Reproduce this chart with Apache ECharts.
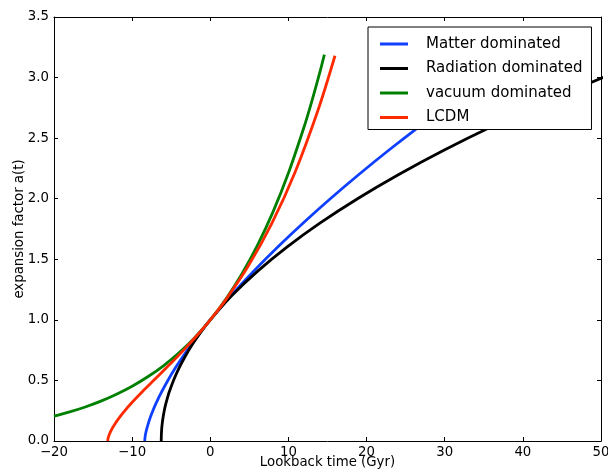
<!DOCTYPE html>
<html>
<head>
<meta charset="utf-8">
<script src="https://cdn.jsdelivr.net/npm/echarts@6/dist/echarts.min.js"></script>
<style>
html,body{margin:0;padding:0;background:#fff;}
#chart{width:608px;height:474px;}
</style>
</head>
<body>
<div id="chart"></div>
<script>
// ---- data ----
const seriesNames = ['Matter dominated', 'Radiation dominated', 'vacuum dominated', 'LCDM'];
const seriesColors = ['#1040ff', '#000000', '#008000', '#ff2a00'];

const matterTime  = [-8.40, -8.31, -8.13, -7.91, -7.65, -7.35, -7.02, -6.66, -6.28, -5.43, -4.50, -3.48, -2.39, -1.23, 0.00, 2.64, 5.52, 8.60, 11.89, 15.36, 19.01, 22.83, 26.82, 30.96, 35.25, 39.01];
const matterScale = [0.00, 0.05, 0.10, 0.15, 0.20, 0.25, 0.30, 0.35, 0.40, 0.50, 0.60, 0.70, 0.80, 0.90, 1.00, 1.20, 1.40, 1.60, 1.80, 2.00, 2.20, 2.40, 2.60, 2.80, 3.00, 3.17];

const radiationTime  = [-6.28, -6.26, -6.22, -6.14, -6.03, -5.89, -5.72, -5.51, -5.28, -4.71, -4.02, -3.20, -2.26, -1.19, 0.00, 2.76, 6.03, 9.80, 14.07, 18.84, 24.12, 29.89, 36.17, 42.96, 50.24, 54.07];
const radiationScale = [0.00, 0.05, 0.10, 0.15, 0.20, 0.25, 0.30, 0.35, 0.40, 0.50, 0.60, 0.70, 0.80, 0.90, 1.00, 1.20, 1.40, 1.60, 1.80, 2.00, 2.20, 2.40, 2.60, 2.80, 3.00, 3.10];

const vacuumTime  = [-20, -18, -16, -14, -12, -10, -8, -6, -4, -2, 0, 2, 4, 6, 8, 10, 12, 13, 14, 14.6];
const vacuumScale = [0.205, 0.240, 0.281, 0.329, 0.386, 0.452, 0.530, 0.621, 0.728, 0.853, 1.000, 1.172, 1.374, 1.610, 1.887, 2.212, 2.592, 2.806, 3.038, 3.190];

const lcdmTime  = [-13.14, -13.04, -12.84, -12.54, -12.14, -11.64, -11.14, -10.14, -8.64, -7.14, -5.14, -3.14, -1.14, 0.00, 1.86, 4.86, 7.86, 10.86, 13.86, 15.96];
const lcdmScale = [0.000, 0.032, 0.066, 0.105, 0.147, 0.193, 0.235, 0.310, 0.411, 0.507, 0.635, 0.769, 0.912, 1.000, 1.155, 1.444, 1.794, 2.221, 2.745, 3.180];

const xTicks = [-20, -10, 0, 10, 20, 30, 40, 50];
const yTicks = [0.0, 0.5, 1.0, 1.5, 2.0, 2.5, 3.0, 3.5];

const xTitle = 'Lookback time (Gyr)';
const yTitle = 'expansion factor a(t)';

// ---- build ----
function zip(xs, ys) { return xs.map((x, i) => [x, ys[i]]); }
const curves = [
  zip(matterTime, matterScale),
  zip(radiationTime, radiationScale),
  zip(vacuumTime, vacuumScale),
  zip(lcdmTime, lcdmScale)
];

const FONT = 'DejaVu Sans';
const fmtNum = v => (v < 0 ? '\u2212' + Math.abs(v) : String(v));

const xStep = xTicks[1] - xTicks[0];
const yStep = yTicks[1] - yTicks[0];

function xAxisDef(pos, showLabels, extra) {
  return Object.assign({
    type: 'value', position: pos,
    min: xTicks[0], max: xTicks[xTicks.length - 1], interval: xStep,
    axisLine: { show: true, onZero: false, lineStyle: { color: '#000', width: 1 } },
    axisTick: { show: true, inside: true, length: 4, lineStyle: { color: '#000', width: 1 } },
    axisLabel: { show: showLabels, margin: 5, color: '#000', fontFamily: FONT, fontSize: 13.3, formatter: fmtNum },
    splitLine: { show: false }
  }, extra || {});
}
function yAxisDef(pos, showLabels, extra) {
  return Object.assign({
    type: 'value', position: pos,
    min: yTicks[0], max: yTicks[yTicks.length - 1], interval: yStep,
    axisLine: { show: true, onZero: false, lineStyle: { color: '#000', width: 1 } },
    axisTick: { show: true, inside: true, length: 4, lineStyle: { color: '#000', width: 1 } },
    axisLabel: { show: showLabels, margin: 5, color: '#000', fontFamily: FONT, fontSize: 13.3, formatter: v => v.toFixed(1) },
    splitLine: { show: false }
  }, extra || {});
}

const chart = echarts.init(document.getElementById('chart'), null, { renderer: 'canvas' });
chart.setOption({
  animation: false,
  backgroundColor: '#fff',
  grid: { left: 54, right: 7, top: 17, bottom: 33, containLabel: false, outerBoundsMode: 'none' },
  xAxis: [
    xAxisDef('bottom', true, {
      name: xTitle, nameLocation: 'middle', nameGap: 15, nameMoveOverlap: false,
      nameTextStyle: { color: '#000', fontFamily: FONT, fontSize: 13.3 }
    }),
    xAxisDef('top', false)
  ],
  yAxis: [
    yAxisDef('left', true, {
      name: yTitle, nameLocation: 'middle', nameGap: 28, nameRotate: 90, nameMoveOverlap: false,
      nameTextStyle: { color: '#000', fontFamily: FONT, fontSize: 13.3 }
    }),
    yAxisDef('right', false)
  ],
  legend: {
    orient: 'vertical', left: 368, top: 27,
    data: seriesNames,
    icon: 'rect', itemWidth: 28, itemHeight: 3, itemGap: 6.5,
    padding: [8, 9, 3, 12],
    backgroundColor: '#fff', borderColor: '#000', borderWidth: 1, borderRadius: 0,
    textStyle: { color: '#000', fontFamily: FONT, fontSize: 15, lineHeight: 18, padding: [0, 0, 0, 13] }
  },
  series: curves.map((d, i) => ({
    name: seriesNames[i], type: 'line', data: d,
    xAxisIndex: 0, yAxisIndex: 0,
    showSymbol: false, symbol: 'none', smooth: 0.3, clip: true,
    color: seriesColors[i],
    lineStyle: { color: seriesColors[i], width: 2.8 },
    z: 2 + i
  }))
});
</script>
</body>
</html>
